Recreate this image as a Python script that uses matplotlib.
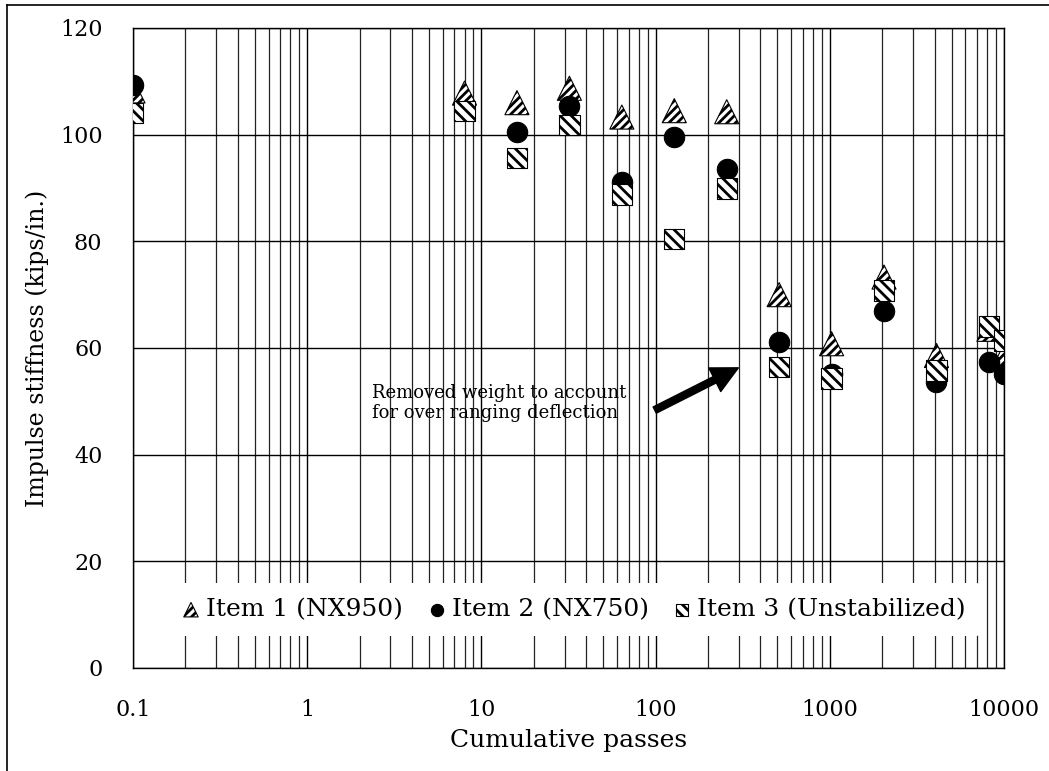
import matplotlib
matplotlib.use('Agg')
import matplotlib.pyplot as plt
from matplotlib.lines import Line2D
from matplotlib.ticker import FixedLocator, FixedFormatter, LogLocator, NullFormatter
import numpy as np

# ---- data ----
passes = [0.1, 8, 16, 32, 64, 128, 256, 512, 1024, 2048, 4096, 8192, 10000]
item1 = [108.2, 107.8, 106.0, 108.7, 103.3, 104.5, 104.3, 70.0, 60.8, 73.3, 58.6, 63.5, 58.5]
item2 = [109.3, np.nan, 100.5, 105.4, 91.1, 99.6, 93.6, 61.1, 55.2, 66.9, 53.6, 57.4, 55.2]
item3 = [104.1, 104.4, 95.6, 101.8, 88.8, 80.4, 89.9, 56.4, 54.3, 70.8, 55.8, 64.0, 61.4]
series_labels = ["Item 1 (NX950)", "Item 2 (NX750)", "Item 3 (Unstabilized)"]
xtick_vals = [0.1, 1, 10, 100, 1000, 10000]
xtick_labels = ["0.1", "1", "10", "100", "1000", "10000"]
ytick_vals = [0, 20, 40, 60, 80, 100, 120]
annotation_text = "Removed weight to account\nfor over ranging deflection"

plt.rcParams['font.family'] = ['DejaVu Serif']
plt.rcParams['hatch.linewidth'] = 2.0

fig = plt.figure(figsize=(10.49, 7.71), dpi=100)
ax = fig.add_axes([133/1049, 1-668/771, (1004-133)/1049, (668-28)/771])

ax.set_xscale('log')
ax.set_xlim(0.1, 10000)
ax.set_ylim(0, 120)

ax.xaxis.set_major_locator(FixedLocator(xtick_vals))
ax.xaxis.set_major_formatter(FixedFormatter(xtick_labels))
ax.xaxis.set_minor_locator(LogLocator(base=10, subs=np.arange(2, 10)))
ax.xaxis.set_minor_formatter(NullFormatter())
ax.yaxis.set_major_locator(FixedLocator(ytick_vals))

ax.grid(True, which='major', axis='both', color='black', lw=1.0)
ax.grid(True, which='minor', axis='x', color='#222222', lw=0.9)
ax.set_axisbelow(True)
ax.tick_params(which='both', length=0)
ax.tick_params(axis='x', pad=22, labelsize=16)
ax.tick_params(axis='y', pad=22, labelsize=16)
for s in ax.spines.values():
    s.set_color('black')
    s.set_linewidth(1.0)

sc1 = ax.scatter(passes, item1, marker='^', s=300, facecolor='white', edgecolor='black',
                 hatch='////', linewidths=0.8, zorder=3, label=series_labels[0])
sc2 = ax.scatter(passes, item2, marker='o', s=215, facecolor='black', edgecolor='black',
                 linewidths=0.8, zorder=4, label=series_labels[1])
sc3 = ax.scatter(passes, item3, marker='s', s=215, facecolor='white', edgecolor='black',
                 hatch='\\\\\\', linewidths=0.8, zorder=5, label=series_labels[2])

leg = ax.legend(loc='center', bbox_to_anchor=(0.505, 0.091), ncol=3, frameon=True,
                fontsize=18, markerscale=0.6, handletextpad=0.15, columnspacing=0.9,
                borderpad=0.6, handlelength=0.9)
leg.get_frame().set_facecolor('white')
leg.get_frame().set_edgecolor('none')
leg.get_frame().set_alpha(1)
leg.set_zorder(10)

ax.set_xlabel("Cumulative passes", fontsize=18, labelpad=6)
ax.set_ylabel("Impulse stiffness (kips/in.)", fontsize=17, labelpad=8)

ax.text(0.274, 0.414, annotation_text, transform=ax.transAxes, ha='left', va='center',
        fontsize=13, linespacing=1.2, zorder=6)
ax.annotate("", xy=(0.695, 0.469), xytext=(0.599, 0.403), xycoords='axes fraction',
            textcoords='axes fraction',
            arrowprops=dict(facecolor='black', edgecolor='black', width=5, headwidth=19,
                            headlength=19, shrink=0), zorder=6)

fig.add_artist(Line2D([7/1049, 7/1049], [0, 1-5/771], transform=fig.transFigure, color='black', lw=1.2))
fig.add_artist(Line2D([7/1049, 1], [1-5/771, 1-5/771], transform=fig.transFigure, color='black', lw=1.2))

fig.savefig('out.png', dpi=100)
